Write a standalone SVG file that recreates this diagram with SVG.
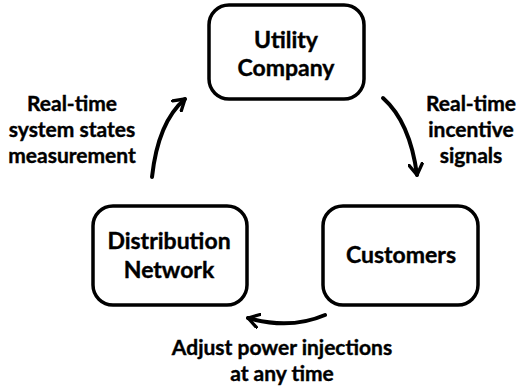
<svg xmlns="http://www.w3.org/2000/svg" width="518" height="390" viewBox="0 0 518 390">
<defs>
<style>
.box{fill:#fff;stroke:#000;stroke-width:3.5}
.t{font-family:Lato,"Open Sans",sans-serif;font-weight:bold;font-size:21px;fill:#000;text-anchor:middle;stroke:#000;stroke-width:0.4}
.n{font-size:23px}
.c{fill:none;stroke:#000;stroke-width:4;stroke-linecap:round}
</style>
<marker id="ah" viewBox="0 0 12 12" refX="9" refY="6" markerWidth="4" markerHeight="4" orient="auto" markerUnits="strokeWidth">
<path d="M1,1 L9,6 L1,11" fill="none" stroke="#000" stroke-width="2.5" stroke-linecap="round" stroke-linejoin="round"/>
</marker>
</defs>
<rect width="518" height="390" fill="#fff"/>
<g id="utility">
<rect class="box" x="209" y="5" width="155" height="94" rx="20"/>
<text class="t n" x="286" y="48">Utility</text>
<text class="t n" x="286" y="76">Company</text>
</g>
<g id="distribution">
<rect class="box" x="93" y="206" width="154" height="99" rx="20"/>
<text class="t n" x="169" y="249">Distribution</text>
<text class="t n" x="169" y="278">Network</text>
</g>
<g id="customers">
<rect class="box" x="323" y="206" width="155" height="99" rx="20"/>
<text class="t n" x="401" y="263">Customers</text>
</g>
<g id="connectors">
<path class="c" d="M152,177 Q158,122 185,99" marker-end="url(#ah)"/>
<path class="c" d="M383,98 Q410,122 417,175" marker-end="url(#ah)"/>
<path class="c" d="M325,315 Q290,330 248,318" marker-end="url(#ah)"/>
</g>
<g id="labels">
<text class="t" x="72" y="111">Real-time</text>
<text class="t" x="72" y="137">system states</text>
<text class="t" x="72" y="163">measurement</text>
<text class="t" x="471" y="111">Real-time</text>
<text class="t" x="471" y="137">incentive</text>
<text class="t" x="471" y="163">signals</text>
<text class="t" x="282" y="355">Adjust power injections</text>
<text class="t" x="282" y="381">at any time</text>
</g>
</svg>
